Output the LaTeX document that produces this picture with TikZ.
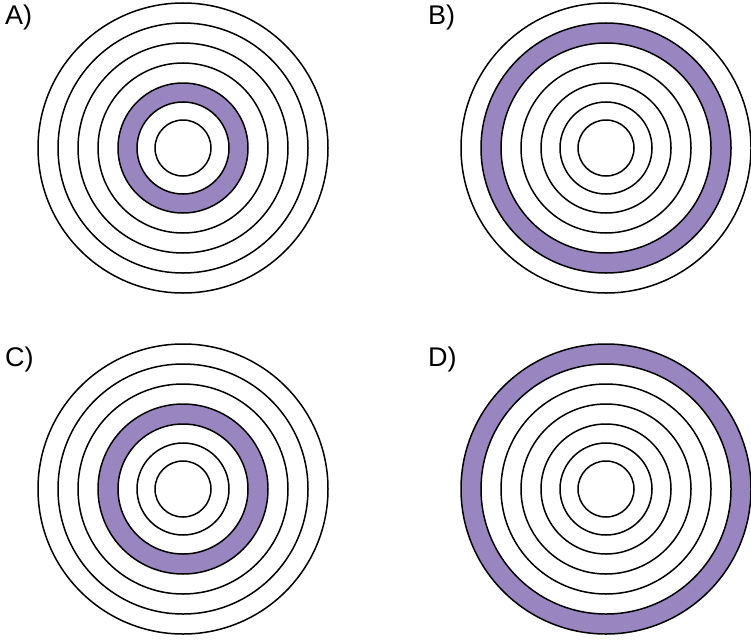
\documentclass[tikz,border=0pt]{standalone}
\usepackage{fontspec}
\setmainfont{Liberation Sans}
\usetikzlibrary{positioning}
\definecolor{Lilac}{RGB}{153,134,192}
\tikzset{
  ring/.style={draw=black,line width=1.5pt},
  band/.style={fill=Lilac,even odd rule},
  plabel/.style={anchor=base west,inner sep=0pt,
                 font=\fontsize{27}{30}\selectfont},
}

\begin{document}
\begin{tikzpicture}[x=1pt,y=-1pt]
  \useasboundingbox (0,0) rectangle (751,642);
  % one target per panel: name, centre, filled band
  \foreach \name/\cx/\cy/\rin/\rout in
      {A/183/148/46/65, B/606/148/105/125, C/183/489/65/85, D/606/489/125/145} {
    \fill[band] (\cx,\cy) circle[radius=\rout pt] (\cx,\cy) circle[radius=\rin pt];
    \foreach \r in {145,125,105,85,65,46,28}
      \draw[ring] (\cx,\cy) circle[radius=\r pt];
  }
  %
  \node[plabel] (labA) at (5,25) {A)};
  \node[plabel] (labB) at (428,25) {B)};
  \node[plabel] (labC) at (5,366) {C)};
  \node[plabel] (labD) at (428,366) {D)};
\end{tikzpicture}
\end{document}
